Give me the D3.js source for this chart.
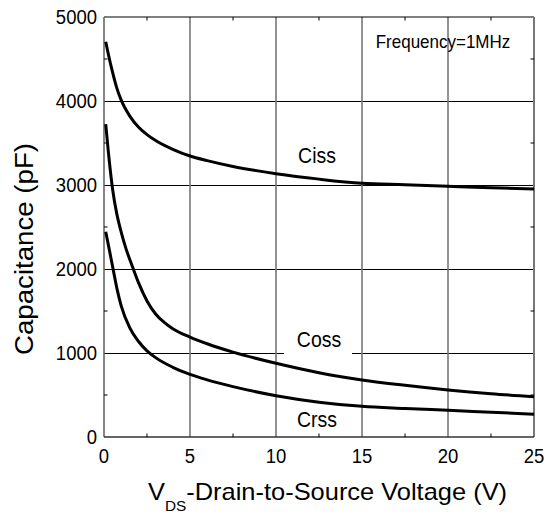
<!DOCTYPE html>
<html>
<head>
<meta charset="utf-8">
<script src="https://cdn.jsdelivr.net/npm/d3@7"></script>
<style>
  html, body { margin: 0; padding: 0; background: #fff; }
  text { font-family: "Liberation Sans", Arial, sans-serif; fill: #000; }
</style>
</head>
<body>
<svg id="chart" width="552" height="516"></svg>
<script>
// ---- data ----
const xTicks = [0, 5, 10, 15, 20, 25];
const yTicks = [0, 1000, 2000, 3000, 4000, 5000];
const xMinorTicks = [2.5, 7.5, 12.5, 17.5, 22.5];
const yMinorTicks = [500, 1500, 2500, 3500, 4500];

const cissV = [0.1, 0.25, 0.5, 0.75, 1, 1.5, 2, 2.5, 3, 4, 5, 6, 7.5, 10, 12.5, 15, 17.5, 20, 22.5, 25];
const cissC = [4706, 4560, 4340, 4150, 4010, 3820, 3690, 3600, 3530, 3425, 3345, 3290, 3220, 3135, 3070, 3020, 3003, 2985, 2968, 2952];

const cossV = [0.1, 0.25, 0.5, 0.75, 1, 1.25, 1.65, 2, 2.5, 3, 3.5, 4, 5, 6, 7.5, 10, 12.5, 15, 17.5, 20, 22.5, 25];
const cossC = [3726, 3400, 2950, 2650, 2440, 2260, 2030, 1840, 1620, 1465, 1365, 1290, 1190, 1110, 1010, 877, 765, 679, 615, 560, 515, 480];

const crssV = [0.1, 0.25, 0.5, 0.75, 1, 1.5, 2, 2.5, 3, 4, 5, 6, 7.5, 10, 12.5, 15, 17.5, 20, 22.5, 25];
const crssC = [2444, 2290, 2030, 1770, 1560, 1300, 1140, 1025, 945, 830, 745, 680, 600, 492, 415, 365, 340, 318, 295, 272];

const seriesNames = ["Ciss", "Coss", "Crss"];
const xTitle = ["V", "DS", "-Drain-to-Source Voltage (V)"];
const yTitle = "Capacitance (pF)";
const noteText = "Frequency=1MHz";

// ---- layout ----
const svg = d3.select("#chart");
const L = 104, R = 534, T = 17, B = 437;
const x = d3.scaleLinear().domain([0, 25]).range([L, R]);
const y = d3.scaleLinear().domain([0, 5000]).range([B, T]);

function stretchedText(g, tx, ty, str, size, anchor, sy) {
  return g.append("text")
    .attr("transform", `translate(${tx},${ty}) scale(1,${sy || 1.1})`)
    .attr("text-anchor", anchor || "start")
    .style("font-size", size + "px")
    .text(str);
}

// horizontal gridlines (black, thin)
svg.append("g").selectAll("line").data(yTicks.filter(d => d > 0 && d < 5000)).join("line")
  .attr("x1", L).attr("x2", R).attr("y1", d => y(d)).attr("y2", d => y(d))
  .attr("stroke", "#000").attr("stroke-width", 1).attr("shape-rendering", "crispEdges");

// vertical gridlines (gray)
svg.append("g").selectAll("line").data(xTicks.filter(d => d > 0 && d < 25)).join("line")
  .attr("x1", d => x(d)).attr("x2", d => x(d)).attr("y1", T).attr("y2", B)
  .attr("stroke", "#777").attr("stroke-width", 1.6);

// frame
svg.append("line").attr("x1", L).attr("x2", R).attr("y1", T).attr("y2", T)
  .attr("stroke", "#000").attr("stroke-width", 1.2);
svg.append("line").attr("x1", R).attr("x2", R).attr("y1", T).attr("y2", B)
  .attr("stroke", "#777").attr("stroke-width", 2);
svg.append("line").attr("x1", L).attr("x2", L).attr("y1", T).attr("y2", B)
  .attr("stroke", "#666").attr("stroke-width", 1.6);
svg.append("line").attr("x1", L).attr("x2", R).attr("y1", B).attr("y2", B)
  .attr("stroke", "#333").attr("stroke-width", 1.5);

// axes via d3 (positions) ; labels drawn with slight vertical stretch
const fmt = d3.format("d");
const gx = svg.append("g").attr("transform", `translate(0,${B})`)
  .call(d3.axisBottom(x).tickValues(xTicks).tickFormat(fmt).tickSize(0));
gx.select(".domain").remove();
gx.selectAll("text").remove();
xTicks.forEach(v => stretchedText(svg, x(v), 463, fmt(v), 18.5, "middle", 1.08));

const gy = svg.append("g").attr("transform", `translate(${L},0)`)
  .call(d3.axisLeft(y).tickValues(yTicks).tickFormat(fmt).tickSize(0));
gy.select(".domain").remove();
gy.selectAll("text").remove();
yTicks.forEach(v => stretchedText(svg, 97, y(v) + 7.2, fmt(v), 18.5, "end", 1.08));

// minor ticks inward on all four sides
const tk = 3.5;
svg.append("g").selectAll("line").data(xMinorTicks).join("line")
  .attr("x1", d => x(d)).attr("x2", d => x(d)).attr("y1", B).attr("y2", B - tk)
  .attr("stroke", "#000").attr("stroke-width", 1);
svg.append("g").selectAll("line").data(xMinorTicks).join("line")
  .attr("x1", d => x(d)).attr("x2", d => x(d)).attr("y1", T).attr("y2", T + tk)
  .attr("stroke", "#000").attr("stroke-width", 1);
svg.append("g").selectAll("line").data(yMinorTicks).join("line")
  .attr("x1", L).attr("x2", L + tk).attr("y1", d => y(d)).attr("y2", d => y(d))
  .attr("stroke", "#000").attr("stroke-width", 1);
svg.append("g").selectAll("line").data(yMinorTicks).join("line")
  .attr("x1", R).attr("x2", R - tk).attr("y1", d => y(d)).attr("y2", d => y(d))
  .attr("stroke", "#000").attr("stroke-width", 1);

// curves
const line = d3.line().x(d => x(d[0])).y(d => y(d[1])).curve(d3.curveMonotoneX);
const series = [d3.zip(cissV, cissC), d3.zip(cossV, cossC), d3.zip(crssV, crssC)];
svg.append("g").selectAll("path").data(series).join("path")
  .attr("d", line).attr("fill", "none").attr("stroke", "#000").attr("stroke-width", 3)
  .attr("stroke-linejoin", "round");

// curve labels
stretchedText(svg, 317, 162.5, seriesNames[0], 19.5, "middle", 1.12);
svg.append("rect").attr("x", 284).attr("y", y(1000) - 3).attr("width", 68).attr("height", 6).attr("fill", "#fff");
stretchedText(svg, 319, 346.5, seriesNames[1], 19.5, "middle", 1.12);
stretchedText(svg, 317, 426.5, seriesNames[2], 19.5, "middle", 1.12);

// frequency note
stretchedText(svg, 443, 47.5, noteText, 17, "middle", 1.1);

// axis titles
const xt = svg.append("text")
  .attr("transform", `translate(327.5,500) scale(1.06,1)`)
  .attr("text-anchor", "middle").style("font-size", "24px");
xt.append("tspan").text(xTitle[0]);
xt.append("tspan").attr("dy", 11).style("font-size", "14.5px").text(xTitle[1]);
xt.append("tspan").attr("dy", -11).text(xTitle[2]);

svg.append("text")
  .attr("transform", `translate(33,249) rotate(-90) scale(1.085,1)`)
  .attr("text-anchor", "middle").style("font-size", "25.5px")
  .text(yTitle);
</script>
</body>
</html>
